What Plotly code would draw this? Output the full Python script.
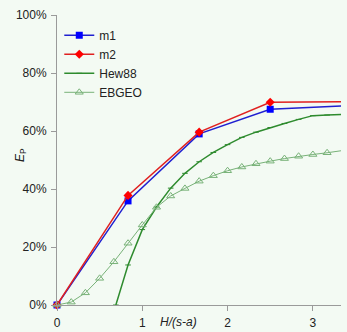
import plotly.graph_objects as go

# data
x_m = [0, 0.833, 1.667, 2.5, 3.333]
m1 = [0.0, 0.359, 0.590, 0.675, 0.686]
m2 = [0.0, 0.378, 0.596, 0.699, 0.701]

x_hew = [0.69, 0.833, 1.0, 1.167, 1.333, 1.5, 1.667, 1.833, 2.0, 2.167,
         2.333, 2.5, 2.667, 2.833, 3.0, 3.167, 3.333]
hew88 = [0.0, 0.138, 0.260, 0.338, 0.403, 0.454, 0.494, 0.526, 0.553, 0.578,
         0.596, 0.612, 0.626, 0.640, 0.653, 0.655, 0.657]

x_eb = [0, 0.167, 0.333, 0.5, 0.667, 0.833, 1.0, 1.167, 1.333, 1.5, 1.667,
        1.833, 2.0, 2.167, 2.333, 2.5, 2.667, 2.833, 3.0, 3.167, 3.333]
ebgeo = [0.0, 0.010, 0.042, 0.092, 0.149, 0.213, 0.276, 0.337, 0.376, 0.402,
         0.427, 0.446, 0.463, 0.476, 0.487, 0.496, 0.505, 0.513, 0.519, 0.525, 0.532]

y_ticks = [0, 0.2, 0.4, 0.6, 0.8, 1.0]
y_ticklabels = ["0%", "20%", "40%", "60%", "80%", "100%"]
x_ticks = [0, 1, 2, 3]

BG = "#F3FAF3"
AX = "#9A9A9A"
FONT = "Liberation Sans, Arial, sans-serif"

fig = go.Figure()
fig.add_trace(go.Scatter(x=x_m, y=m1, name="m1", mode="lines+markers",
                         line=dict(color="#2020D0", width=1.5),
                         marker=dict(symbol="square", size=7, color="#0000FF"),
                         cliponaxis=False))
fig.add_trace(go.Scatter(x=x_m, y=m2, name="m2", mode="lines+markers",
                         line=dict(color="#E02020", width=1.5),
                         marker=dict(symbol="diamond", size=7, color="#FF0000"),
                         cliponaxis=False))
fig.add_trace(go.Scatter(x=x_hew, y=hew88, name="Hew88", mode="lines+markers",
                         line=dict(color="#2E8B2E", width=1.5),
                         marker=dict(symbol="line-ew", size=4,
                                     line=dict(color="#2E8B2E", width=1)),
                         cliponaxis=False))
fig.add_trace(go.Scatter(x=x_eb, y=ebgeo, name="EBGEO", mode="lines+markers",
                         line=dict(color="#78B278", width=1),
                         marker=dict(symbol="triangle-up-open", size=7,
                                     color="#78B278", line=dict(width=1)),
                         cliponaxis=False))

fig.update_layout(
    width=347, height=332,
    margin=dict(l=57, r=6, t=15, b=27, autoexpand=False),
    paper_bgcolor=BG, plot_bgcolor=BG,
    font=dict(family=FONT, size=12, color="#222222"),
    showlegend=True,
    legend=dict(x=0.008, y=0.98, xanchor="left", yanchor="top",
                bgcolor="rgba(0,0,0,0)", font=dict(size=12, color="#222222"),
                itemwidth=30),
    xaxis=dict(range=[0, 3.33], tickvals=x_ticks, showgrid=False, zeroline=False,
               showline=True, linecolor=AX, linewidth=1,
               ticks="outside", ticklen=5, tickcolor=AX,
               ticklabelstandoff=2, automargin=False),
    yaxis=dict(range=[0, 1], tickvals=y_ticks, ticktext=y_ticklabels,
               showgrid=False, zeroline=False,
               showline=True, linecolor=AX, linewidth=1,
               ticks="outside", ticklen=5, tickcolor=AX,
               ticklabelstandoff=2, automargin=False),
    annotations=[
        dict(text="<i>H/(s-a)</i>", xref="x", yref="paper", x=1.42, y=-0.058,
             xanchor="center", yanchor="middle", showarrow=False,
             font=dict(size=12, color="#222222")),
        dict(text="<i>E</i><sub>P</sub>", xref="paper", yref="paper",
             x=-0.127, y=0.517, xanchor="center", yanchor="middle",
             textangle=-90, showarrow=False,
             font=dict(size=12, color="#222222")),
    ],
)

fig.write_html(
    "out.html",
    config={"displayModeBar": False},
    post_script="document.body.style.margin='0';document.body.style.background='" + BG + "';",
)
